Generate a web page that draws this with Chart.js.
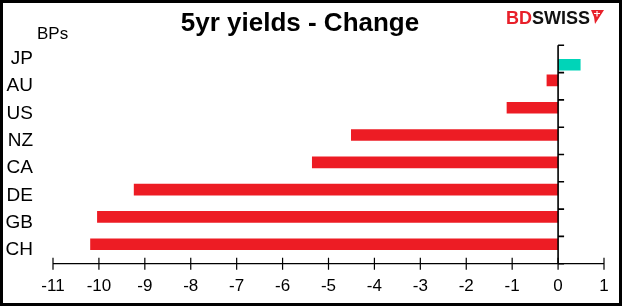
<!DOCTYPE html>
<html>
<head>
<meta charset="utf-8">
<script src="https://cdn.jsdelivr.net/npm/chart.js@4/dist/chart.umd.min.js"></script>
<style>
  html, body { margin: 0; padding: 0; background: #fff; }
  #wrap { position: relative; width: 622px; height: 306px; }
  #frame { position: absolute; left: 0; top: 0; width: 622px; height: 306px; box-sizing: border-box; border: 3px solid #000; pointer-events: none; }
  canvas { position: absolute; left: 0; top: 0; }
</style>
</head>
<body>
<div id="wrap">
  <canvas id="c" width="622" height="306"></canvas>
  <div id="frame"></div>
</div>
<script>
// ---- data ----
const categories = ['JP', 'AU', 'US', 'NZ', 'CA', 'DE', 'GB', 'CH'];
const fallValues = [null, -0.25, -1.12, -4.51, -5.36, -9.24, -10.04, -10.19];
const riseValues = [0.49, null, null, null, null, null, null, null];
const xTickValues = [-11, -10, -9, -8, -7, -6, -5, -4, -3, -2, -1, 0, 1];
const chartTitle = '5yr yields - Change';
const unitLabel = 'BPs';

const FONT = '"Liberation Sans", Arial, Helvetica, sans-serif';

const axesPlugin = {
  id: 'excelAxes',
  afterDatasetsDraw(chart) {
    const ctx = chart.ctx;
    const xs = chart.scales.x, ys = chart.scales.y;
    const a = chart.chartArea;
    ctx.save();
    ctx.strokeStyle = '#000';
    // horizontal axis with crossing ticks
    ctx.lineWidth = 1.2;
    ctx.beginPath();
    ctx.moveTo(xs.getPixelForValue(xTickValues[0]), a.bottom);
    ctx.lineTo(xs.getPixelForValue(xTickValues[xTickValues.length - 1]), a.bottom);
    xTickValues.forEach(v => {
      const px = xs.getPixelForValue(v);
      ctx.moveTo(px, a.bottom - 6);
      ctx.lineTo(px, a.bottom + 6);
    });
    ctx.stroke();
    // vertical axis at zero with ticks pointing right
    const x0 = xs.getPixelForValue(0);
    ctx.lineWidth = 1.6;
    ctx.beginPath();
    ctx.moveTo(x0, ys.top);
    ctx.lineTo(x0, ys.bottom);
    const n = categories.length;
    for (let i = 0; i <= n; i++) {
      const py = ys.top + i * (ys.bottom - ys.top) / n;
      ctx.moveTo(x0, py);
      ctx.lineTo(x0 + 6, py);
    }
    ctx.stroke();
    ctx.restore();
  },
  afterDraw(chart) {
    const ctx = chart.ctx;
    ctx.save();
    // title
    ctx.fillStyle = '#000';
    ctx.textAlign = 'center';
    ctx.textBaseline = 'alphabetic';
    ctx.font = 'bold 26px ' + FONT;
    ctx.fillText(chartTitle, 300, 31);
    // unit label
    ctx.textAlign = 'left';
    ctx.font = '17px ' + FONT;
    ctx.fillText(unitLabel, 37, 39);
    // logo
    ctx.font = 'bold 18px ' + FONT;
    ctx.fillStyle = '#E8202A';
    ctx.fillText('BD', 506, 24);
    const w = ctx.measureText('BD').width;
    ctx.fillStyle = '#111';
    ctx.fillText('SWISS', 506 + w, 24);
    const w2 = ctx.measureText('SWISS').width;
    const fx = 506 + w + w2 + 1;
    ctx.fillStyle = '#E8202A';
    ctx.beginPath();
    ctx.moveTo(fx, 10);
    ctx.lineTo(fx + 13, 10);
    ctx.lineTo(fx + 4, 24);
    ctx.lineTo(fx + 3, 17);
    ctx.closePath();
    ctx.fill();
    ctx.strokeStyle = '#fff';
    ctx.lineWidth = 1.2;
    ctx.beginPath();
    ctx.moveTo(fx + 3, 13.5); ctx.lineTo(fx + 9, 13.5);
    ctx.moveTo(fx + 6, 11); ctx.lineTo(fx + 6, 16.5);
    ctx.stroke();
    ctx.restore();
  }
};

new Chart(document.getElementById('c'), {
  type: 'bar',
  data: {
    labels: categories,
    datasets: [
      { data: fallValues, backgroundColor: '#ED1C24', borderWidth: 0,
        categoryPercentage: 0.855, barPercentage: 1.0 },
      { data: riseValues, backgroundColor: '#00D4B8', borderWidth: 0,
        categoryPercentage: 0.855, barPercentage: 1.0 }
    ]
  },
  options: {
    indexAxis: 'y',
    responsive: false,
    animation: false,
    devicePixelRatio: 1,
    layout: { padding: { top: 45.3, right: 18, bottom: 0, left: 4 } },
    plugins: {
      legend: { display: false },
      title: { display: false },
      tooltip: { enabled: false }
    },
    scales: {
      x: {
        type: 'linear',
        min: xTickValues[0],
        max: xTickValues[xTickValues.length - 1],
        afterBuildTicks(scale) { scale.ticks = xTickValues.map(v => ({ value: v })); },
        afterFit(scale) { scale.height = 42.3; },
        grid: { display: false, drawTicks: false },
        border: { display: false },
        ticks: {
          color: '#000',
          font: { family: FONT, size: 17 },
          padding: 12,
          maxRotation: 0,
          autoSkip: false,
          callback: (v) => String(v)
        }
      },
      y: {
        afterFit(scale) { scale.width = 49; },
        grid: { display: false, drawTicks: false },
        border: { display: false },
        ticks: {
          color: '#000',
          font: { family: FONT, size: 19 },
          padding: 20,
          autoSkip: false
        }
      }
    }
  },
  plugins: [axesPlugin]
});
</script>
</body>
</html>
